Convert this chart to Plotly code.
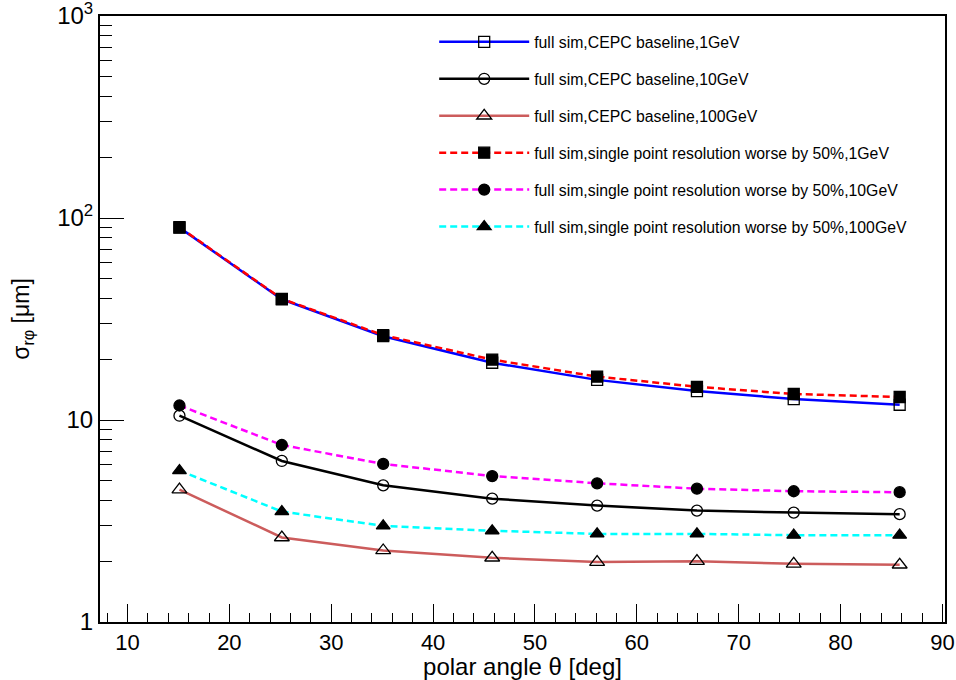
import plotly.graph_objects as go

theta = [15.1, 25.15, 35.1, 45.8, 56.1, 65.9, 75.4, 85.8]

base_1gev = [89.6, 39.6, 26.0, 19.2, 15.8, 13.9, 12.7, 11.9]
base_10gev = [10.5, 6.27, 4.75, 4.08, 3.77, 3.56, 3.48, 3.42]
base_100gev = [4.52, 2.62, 2.26, 2.08, 1.98, 2.0, 1.94, 1.92]
worse_1gev = [90.0, 39.8, 26.3, 19.9, 16.4, 14.6, 13.45, 13.0]
worse_10gev = [11.8, 7.52, 6.06, 5.28, 4.86, 4.57, 4.44, 4.39]
worse_100gev = [5.62, 3.52, 2.99, 2.83, 2.73, 2.73, 2.69, 2.69]

names = [
    "full sim,CEPC baseline,1GeV",
    "full sim,CEPC baseline,10GeV",
    "full sim,CEPC baseline,100GeV",
    "full sim,single point resolution worse by 50%,1GeV",
    "full sim,single point resolution worse by 50%,10GeV",
    "full sim,single point resolution worse by 50%,100GeV",
]
series = [base_1gev, base_10gev, base_100gev, worse_1gev, worse_10gev, worse_100gev]
line_colors = ["#0000ff", "#000000", "#cc5c5c", "#ff0000", "#ff00ff", "#00ffff"]
dashes = ["solid", "solid", "solid", "7px,4px", "7px,4px", "7px,4px"]
symbols = ["square-open", "circle-open", "triangle-up-open", "square", "circle", "triangle-up"]
msizes = [11, 11, 13, 11, 11, 12]

y_tickvals = [1, 10, 100, 1000]
y_ticktext = ["1", "10", "10<sup>2</sup>", "10<sup>3</sup>"]

fig = go.Figure()
for i in range(6):
    fig.add_trace(go.Scatter(
        x=theta, y=series[i], name=names[i], mode="lines+markers",
        line=dict(color=line_colors[i], width=2.5, dash=dashes[i]),
        marker=dict(symbol=symbols[i], size=msizes[i], color="black",
                    line=dict(color="black", width=1.3)),
        legendgroup="g%d" % i,
    ))

font = "Liberation Sans, Arial, Helvetica, sans-serif"
fig.update_layout(
    width=956, height=680,
    margin=dict(l=100, r=11, t=16, b=58),
    paper_bgcolor="white", plot_bgcolor="white",
    font=dict(family=font, color="black", size=20),
    showlegend=True,
    legend=dict(x=0.3955, y=0.985, xanchor="left", yanchor="top",
                bgcolor="rgba(0,0,0,0)", borderwidth=0,
                font=dict(size=15.8, family=font), itemwidth=90,
                tracegroupgap=13.4),
    xaxis=dict(range=[7.3, 90.25], showgrid=False, zeroline=False, automargin=False,
               showline=True, linecolor="black", linewidth=2, mirror=True,
               ticks="inside", ticklen=18, tickwidth=1, tickcolor="black",
               dtick=10, tick0=0,
               minor=dict(ticks="inside", ticklen=9, dtick=2, tick0=0, tickcolor="black", tickwidth=1),
               tickfont=dict(size=22),
               title=dict(text="polar angle θ [deg]", font=dict(size=24), standoff=0)),
    yaxis=dict(type="log", range=[0, 3], showgrid=False, zeroline=False, automargin=False,
               showline=True, linecolor="black", linewidth=2, mirror=True,
               ticks="inside", ticklen=24, tickwidth=1, tickcolor="black",
               tickvals=y_tickvals, ticktext=y_ticktext, ticklabeloverflow="allow",
               minor=dict(ticks="inside", ticklen=12, dtick="D1", tickcolor="black", tickwidth=1),
               tickfont=dict(size=24),
               title=dict(text="σ<sub>rφ</sub> [μm]", font=dict(size=23), standoff=21)),
)

# remove the default page margin so the 956x680 figure fills the window exactly
fig.write_html("out.html", config={"displayModeBar": False},
               post_script="document.body.style.margin='0';")
